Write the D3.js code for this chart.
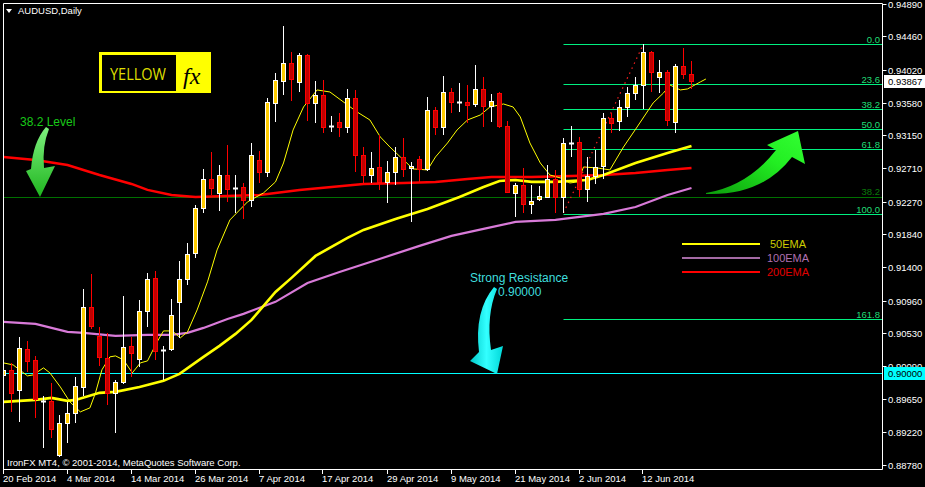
<!DOCTYPE html>
<html><head><meta charset="utf-8">
<script src="https://cdn.jsdelivr.net/npm/d3@7"></script>
<style>html,body{margin:0;padding:0;background:#000;overflow:hidden}svg{display:block}</style>
</head><body>
<svg id="c" width="925" height="487"></svg>
<script>
// ---------- DATA ----------
const symbol = "AUDUSD,Daily";
const opens = [0.89974,0.90041,0.89776,0.90319,0.90173,0.89630,0.89630,0.88914,0.89338,0.89471,
 0.89815,0.90875,0.90491,0.90200,0.89736,0.89882,0.90359,0.90186,0.90822,0.91260,
 0.90306,0.90319,0.90942,0.91246,0.91591,0.92187,0.92571,0.92386,0.92624,0.92452,
 0.92465,0.92293,0.92823,0.92664,0.93578,0.93870,0.94108,0.93857,0.94214,0.93578,
 0.93684,0.93274,0.93327,0.93260,0.93645,0.92889,0.92624,0.92730,0.92532,0.92664,
 0.92863,0.92717,0.92836,0.92704,0.93486,0.93260,0.93724,0.93592,0.93592,0.93565,
 0.93764,0.93539,0.93711,0.93274,0.92386,0.92492,0.92240,0.92306,0.92333,0.92571,
 0.92333,0.93048,0.93062,0.92439,0.92611,0.92744,0.93380,0.93340,0.93525,0.93711,
 0.93817,0.94254,0.93923,0.93989,0.93327,0.94069,0.93963];
const highs = [0.90200,0.90133,0.90478,0.90425,0.90226,0.89696,0.89868,0.89444,0.89617,0.89948,
 0.91114,0.91313,0.90610,0.90531,0.89908,0.91021,0.90478,0.90968,0.91326,0.91352,
 0.90359,0.90981,0.91485,0.91723,0.92227,0.92704,0.92929,0.92757,0.93022,0.92624,
 0.92518,0.93048,0.92942,0.93645,0.93976,0.94599,0.94254,0.94241,0.94230,0.93870,
 0.93883,0.93406,0.93446,0.93764,0.93751,0.92995,0.92929,0.93154,0.92810,0.92995,
 0.93115,0.92797,0.92876,0.93658,0.93525,0.93936,0.93777,0.93843,0.93817,0.94082,
 0.93923,0.93698,0.93720,0.93340,0.92518,0.92717,0.92492,0.92479,0.92757,0.92691,
 0.93115,0.93274,0.93128,0.92863,0.92956,0.93446,0.93446,0.93618,0.93790,0.93923,
 0.94360,0.94265,0.94148,0.94016,0.94095,0.94307,0.94135];
const lows = [0.89352,0.89484,0.89352,0.90014,0.89405,0.89007,0.89140,0.88888,0.89073,0.89338,
 0.89696,0.90584,0.90094,0.89577,0.89206,0.89855,0.89948,0.90080,0.90610,0.90173,
 0.89908,0.90292,0.90465,0.91167,0.91525,0.92121,0.92359,0.92147,0.92267,0.92121,
 0.92041,0.92200,0.92518,0.92598,0.93327,0.93684,0.93605,0.93724,0.93340,0.93313,
 0.93181,0.93194,0.93128,0.93181,0.92664,0.92518,0.92518,0.92426,0.92253,0.92492,
 0.92598,0.92002,0.92518,0.92677,0.93154,0.93154,0.93446,0.93459,0.93313,0.93525,
 0.93260,0.93327,0.93247,0.92386,0.92068,0.92121,0.92108,0.92280,0.92320,0.92121,
 0.92121,0.92863,0.92333,0.92267,0.92505,0.92571,0.93181,0.93207,0.93393,0.93618,
 0.93499,0.93724,0.93711,0.93274,0.93181,0.93896,0.93764];
const closes = [0.90041,0.89736,0.90332,0.90160,0.89656,0.89630,0.89259,0.89338,0.89471,0.89829,
 0.90875,0.90624,0.90213,0.89736,0.89882,0.90345,0.90266,0.90822,0.91246,0.90292,
 0.90306,0.90769,0.91246,0.91577,0.92187,0.92571,0.92452,0.92624,0.92439,0.92452,
 0.92293,0.92889,0.92664,0.93592,0.93883,0.94108,0.93896,0.94214,0.93578,0.93684,
 0.93260,0.93274,0.93260,0.93645,0.92889,0.92624,0.92717,0.92532,0.92664,0.92863,
 0.92704,0.92744,0.92704,0.93486,0.93260,0.93724,0.93592,0.93592,0.93552,0.93764,
 0.93539,0.93605,0.93274,0.92399,0.92492,0.92240,0.92280,0.92346,0.92571,0.92333,
 0.93048,0.93048,0.92439,0.92611,0.92730,0.93380,0.93313,0.93525,0.93711,0.93817,
 0.94254,0.93989,0.93989,0.93353,0.94069,0.93963,0.93867];

const dateTickIndex = [0,8,16,24,32,40,48,56,64,72,80];
const dateTickLabels = ["20 Feb 2014","4 Mar 2014","14 Mar 2014","26 Mar 2014","7 Apr 2014","17 Apr 2014","29 Apr 2014","9 May 2014","21 May 2014","2 Jun 2014","12 Jun 2014"];
const priceTicks = [0.94890,0.94460,0.94020,0.93580,0.93150,0.92710,0.92270,0.91840,0.91400,0.90960,0.90530,0.90090,0.89650,0.89220,0.88780];

// indicator lines: [bar index, price]
const ema200 = [[0,0.92863],[4,0.92823],[8,0.92757],[12,0.92624],[16,0.92505],[18,0.92426],[21,0.92359],[24,0.92333],[28,0.92346],[32,0.92359],[37,0.92426],[41,0.92465],[45,0.92505],[50,0.92518],[54,0.92532],[58,0.92571],[61,0.92598],[66,0.92598],[71,0.92611],[75,0.92624],[79,0.92651],[83,0.92691],[86,0.92717]];
const ema100 = [[0,0.90677],[4,0.90650],[6,0.90597],[8,0.90544],[10,0.90531],[14,0.90491],[18,0.90505],[21,0.90505],[23,0.90531],[25,0.90597],[28,0.90716],[30,0.90783],[34,0.90942],[38,0.91193],[42,0.91339],[47,0.91511],[52,0.91684],[56,0.91816],[60,0.91909],[64,0.92002],[69,0.92028],[72,0.92068],[75,0.92108],[79,0.92200],[83,0.92359],[86,0.92452]];
const ema50 = [[0,0.89617],[4,0.89643],[6,0.89670],[8,0.89630],[9,0.89643],[12,0.89736],[14,0.89749],[17,0.89815],[20,0.89895],[22,0.89988],[25,0.90213],[27,0.90359],[29,0.90518],[31,0.90703],[34,0.91074],[36,0.91260],[39,0.91551],[43,0.91790],[45,0.91896],[49,0.92041],[53,0.92174],[57,0.92333],[60,0.92465],[62,0.92545],[64,0.92558],[66,0.92532],[69,0.92532],[73,0.92558],[75,0.92624],[79,0.92783],[83,0.92916],[86,0.93009]];
const fastMA = [[0,0.90133],[1.2,0.90107],[3.0,0.89961],[3.7,0.89974],[5.0,0.90067],[5.8,0.90001],[7.1,0.89815],[8.3,0.89617],[9.6,0.89484],[10.8,0.89537],[11.5,0.89736],[12.3,0.90041],[13.3,0.90213],[14.0,0.90226],[15.0,0.90173],[16.1,0.90001],[17.1,0.90133],[18.0,0.90160],[19.2,0.90412],[20.0,0.90557],[21.1,0.90557],[22.1,0.90465],[23.0,0.90544],[24.2,0.90835],[25.5,0.91207],[26.7,0.91631],[28.3,0.92028],[30.5,0.92267],[32.5,0.92386],[34.0,0.92532],[35.0,0.92783],[36.2,0.93221],[37.5,0.93525],[39.2,0.93751],[40.8,0.93724],[43.0,0.93552],[44.2,0.93459],[45.8,0.93353],[47.1,0.93128],[48.3,0.92995],[49.6,0.92863],[51.2,0.92704],[53.0,0.92691],[54.0,0.92863],[55.5,0.93048],[56.7,0.93221],[58.0,0.93353],[59.6,0.93419],[60.8,0.93525],[62.5,0.93565],[63.7,0.93525],[64.6,0.93393],[65.8,0.93048],[67.1,0.92783],[68.3,0.92624],[69.6,0.92585],[70.8,0.92518],[71.8,0.92532],[72.5,0.92730],[74.2,0.92717],[75.8,0.92691],[77.5,0.92995],[79.2,0.93260],[81.2,0.93578],[82.5,0.93711],[83.3,0.93817],[84.6,0.93751],[85.5,0.93764],[87.1,0.93857],[87.8,0.93896]];

const fibLevels = [0, 23.6, 38.2, 50, 61.8, 100, 161.8];
const fibLabels = ["0.0","23.6","38.2","50.0","61.8","100.0","161.8"];
const fibHigh = 0.94360, fibLow = 0.92108, fibStartIndex = 70;
const levelLine = 0.92333, levelLabel = "38.2";
const resistance = 0.90000;
const trendLine = [[70,0.92121],[80,0.94360]];
const lastPrice = 0.93867;
const legendNames = ["50EMA","100EMA","200EMA"];

// ---------- DRAW ----------
const svg = d3.select("#c");
const W = 925, H = 487;
const L = 3, R = 882, T = 3, B = 469;
const font = "'Liberation Sans', Arial, sans-serif";
svg.append("rect").attr("width",W).attr("height",H).attr("fill","#000");

const x = d3.scaleLinear().domain([0,86]).range([3.5, 691.5]);
const y = d3.scaleLinear().domain([0.88780, 0.94890]).range([465, 4]);

const defs = svg.append("defs");
defs.append("clipPath").attr("id","plot").append("rect").attr("x",L).attr("y",T).attr("width",R-L).attr("height",B-T);
const gg1 = defs.append("linearGradient").attr("id","gSmall").attr("x1",0).attr("y1",0).attr("x2",0).attr("y2",1);
gg1.append("stop").attr("offset","0").attr("stop-color","#7ef07e");
gg1.append("stop").attr("offset","1").attr("stop-color","#1fb51f");
const gg2 = defs.append("linearGradient").attr("id","gBig").attr("x1",0).attr("y1",1).attr("x2",1).attr("y2",0);
gg2.append("stop").attr("offset","0").attr("stop-color","#0c9c0c");
gg2.append("stop").attr("offset","0.6").attr("stop-color","#22ee22");
gg2.append("stop").attr("offset","1").attr("stop-color","#33ff33");
const gc = defs.append("linearGradient").attr("id","gCyan").attr("x1",0).attr("y1",0).attr("x2",1).attr("y2",0);
gc.append("stop").attr("offset","0").attr("stop-color","#00c8c8");
gc.append("stop").attr("offset","0.5").attr("stop-color","#33ffff");
gc.append("stop").attr("offset","1").attr("stop-color","#00d8d8");

const plot = svg.append("g").attr("clip-path","url(#plot)");

// horizontal level lines
plot.append("line").attr("x1",L).attr("x2",R).attr("y1",Math.round(y(levelLine))+0.5).attr("y2",Math.round(y(levelLine))+0.5).attr("stroke","#007000").attr("stroke-width",1);
plot.append("line").attr("x1",L).attr("x2",R).attr("y1",Math.round(y(resistance))+0.5).attr("y2",Math.round(y(resistance))+0.5).attr("stroke","#00ffff").attr("stroke-width",1);

// fib lines
const fibG = plot.append("g");
fibLevels.forEach((lv,k)=>{
  const p = fibHigh - lv/100*(fibHigh-fibLow);
  const yy = Math.round(y(p))+0.5;
  fibG.append("line").attr("x1",x(fibStartIndex)).attr("x2",R).attr("y1",yy).attr("y2",yy).attr("stroke","#00f080").attr("stroke-width",1);
  fibG.append("text").attr("x",880).attr("y",yy-2).attr("text-anchor","end").attr("font-family",font).attr("font-size","9.5px").attr("fill","#22dd77").text(fibLabels[k]);
});
plot.append("text").attr("x",880).attr("y",Math.round(y(levelLine))-2).attr("text-anchor","end").attr("font-family",font).attr("font-size","9.5px").attr("fill","#0a7a0a").text(levelLabel);

// indicator lines
const line = d3.line().x(d=>x(d[0])).y(d=>y(d[1]));
plot.append("path").attr("d",line(ema100)).attr("fill","none").attr("stroke","#d87ad8").attr("stroke-width",2.2);
plot.append("path").attr("d",line(ema200)).attr("fill","none").attr("stroke","#ff0000").attr("stroke-width",2.5);
plot.append("path").attr("d",line(ema50)).attr("fill","none").attr("stroke","#ffff00").attr("stroke-width",2.6);
plot.append("path").attr("d",line(fastMA)).attr("fill","none").attr("stroke","#ffff00").attr("stroke-width",1);
plot.append("path").attr("d",line(trendLine)).attr("fill","none").attr("stroke","#ff2020").attr("stroke-width",1.2).attr("stroke-dasharray","1.5,4");

// candles
const bars = d3.range(opens.length).map(i=>({i,o:opens[i],h:highs[i],l:lows[i],c:closes[i]}));
const cg = plot.append("g");
bars.forEach(d=>{
  const cx = x(d.i);
  const bull = d.c > d.o, doji = d.c === d.o;
  const col = doji ? "#ffffff" : (bull ? "#ffffff" : "#ff0000");
  cg.append("line").attr("x1",cx).attr("x2",cx).attr("y1",Math.round(y(d.h))).attr("y2",Math.round(y(d.l))).attr("stroke",col).attr("stroke-width",1);
  if (doji) {
    const yy = Math.round(y(d.o))+0.5;
    cg.append("line").attr("x1",cx-2.5).attr("x2",cx+2.5).attr("y1",yy).attr("y2",yy).attr("stroke","#fff").attr("stroke-width",2);
  } else {
    const top = Math.round(y(Math.max(d.o,d.c)))+0.5, bot = Math.round(y(Math.min(d.o,d.c)))+0.5;
    cg.append("rect").attr("x",cx-2).attr("y",top).attr("width",4).attr("height",Math.max(1,bot-top))
      .attr("fill", bull ? "#ffcc00" : "#c00000").attr("stroke", bull ? "#ffffff" : "#ff0000").attr("stroke-width",1);
  }
});

// frame
svg.append("path").attr("d",`M${L+0.5},${B+0.5}V${T+0.5}H${R+0.5}V${B+0.5}H${L+0.5}`).attr("fill","none").attr("stroke","#fff").attr("stroke-width",1);

// right axis
const ax = svg.append("g");
priceTicks.forEach(p=>{
  const yy = Math.round(y(p))+0.5;
  ax.append("line").attr("x1",R+0.5).attr("x2",R+4.5).attr("y1",yy).attr("y2",yy).attr("stroke","#fff");
  ax.append("text").attr("x",888).attr("y",yy+3.5).attr("font-family",font).attr("font-size","9.5px").attr("fill","#fff").text(p.toFixed(5));
});
// price labels
function priceBox(p, bg){
  const yy = Math.round(y(p))+0.5;
  ax.append("rect").attr("x",884).attr("y",yy-6.5).attr("width",41).attr("height",13).attr("fill",bg);
  ax.append("text").attr("x",888).attr("y",yy+3.5).attr("font-family",font).attr("font-size","9.5px").attr("fill","#000").text(p.toFixed(5));
}
priceBox(resistance, "#00ffff");
priceBox(lastPrice, "#ffffff");

// bottom axis
dateTickIndex.forEach((ix,k)=>{
  const xx = Math.round(x(ix)) - 0.5;
  ax.append("line").attr("x1",xx).attr("x2",xx).attr("y1",B).attr("y2",B+5).attr("stroke","#fff");
  ax.append("text").attr("x",xx-0.5).attr("y",482).attr("font-family",font).attr("font-size","9.5px").attr("fill","#fff").text(dateTickLabels[k]);
});

// title
svg.append("path").attr("d","M6,9 L12,9 L9,13 Z").attr("fill","#fff");
svg.append("text").attr("x",18).attr("y",14).attr("font-family",font).attr("font-size","9.5px").attr("fill","#fff").text(symbol);
svg.append("text").attr("x",7).attr("y",466).attr("font-family",font).attr("font-size","9.5px").attr("fill","#fff").text("IronFX MT4, © 2001-2014, MetaQuotes Software Corp.");

// logo
svg.append("rect").attr("x",99).attr("y",52).attr("width",112).attr("height",41).attr("fill","#ffff00");
svg.append("rect").attr("x",102).attr("y",55).attr("width",74).attr("height",36).attr("fill","#000");
svg.append("text").attr("x",110).attr("y",80).attr("font-family","'Open Sans', Arial, sans-serif").attr("font-size","16px").attr("fill","#dede00").attr("textLength",56).attr("lengthAdjust","spacingAndGlyphs").text("YELLOW");
svg.append("text").attr("x",183).attr("y",84).attr("font-family","'Liberation Serif', serif").attr("font-style","italic").attr("font-size","24px").attr("fill","#000").text("fx");

// annotations
svg.append("text").attr("x",20).attr("y",126).attr("font-family",font).attr("font-size","12px").attr("fill","#18c818").text("38.2 Level");
svg.append("path").attr("d","M46,127 Q33,142 31,169 L26,171 L40,197 L55,166 L44,168 Q42,146 49,129 Z").attr("fill","url(#gSmall)");

svg.append("text").attr("x",470).attr("y",282).attr("font-family",font).attr("font-size","12px").attr("fill","#3fdede").text("Strong Resistance");
svg.append("text").attr("x",498).attr("y",296).attr("font-family",font).attr("font-size","12px").attr("fill","#3fdede").text("0.90000");
svg.append("path").attr("d","M494,287 Q474,311 479,352 L470,361 L497,374 L503,346 L491,350 Q486,315 497,289 Z").attr("fill","url(#gCyan)");

svg.append("path").attr("d","M706,193 Q748,186 776,150 L767,145 L798,131 L805,164 L792,157 Q762,196 706,194 Z").attr("fill","url(#gBig)");

// legend
const legColors = ["#ffff00","#a46aa4","#ff0000"];
const legText = ["#cccc00","#b070b0","#e00000"];
legendNames.forEach((n,k)=>{
  const yy = 244 + k*14;
  svg.append("line").attr("x1",682).attr("x2",760).attr("y1",yy).attr("y2",yy).attr("stroke",legColors[k]).attr("stroke-width",2);
  svg.append("text").attr("x",788).attr("y",yy+4).attr("text-anchor","middle").attr("font-family",font).attr("font-size","11px").attr("fill",legText[k]).text(n);
});
</script>
</body></html>
